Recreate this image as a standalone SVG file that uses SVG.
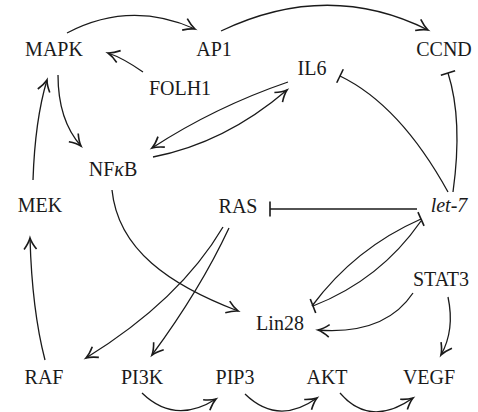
<svg xmlns="http://www.w3.org/2000/svg" width="478" height="412" viewBox="0 0 478 412">
<defs>
<style>
text{font-family:"Liberation Serif","Times New Roman",serif;font-size:20px;fill:#1a1a1a;text-anchor:middle}
.e{fill:none;stroke:#1a1a1a;stroke-width:1.3}
.a{marker-end:url(#arr)}
.t{marker-end:url(#tee)}
</style>
<marker id="arr" markerUnits="userSpaceOnUse" markerWidth="20" markerHeight="20" viewBox="-12 -8 14 16" refX="0" refY="0" orient="auto" overflow="visible">
<path d="M-9,-5 Q-4,-1.2 0,0 Q-4,1.2 -9,5" fill="none" stroke="#1a1a1a" stroke-width="1.3"/>
</marker>
<marker id="tee" markerUnits="userSpaceOnUse" markerWidth="20" markerHeight="20" viewBox="-8 -8 16 16" refX="0" refY="0" orient="auto" overflow="visible">
<path d="M0,-6 L0,6" fill="none" stroke="#1a1a1a" stroke-width="1.3"/>
</marker>
</defs>
<rect width="478" height="412" fill="#fff"/>
<g id="connectors">
<path class="e a" d="M67,33 Q130,0 195,29"/>
<path class="e a" d="M221,31 Q328,-20 428,30"/>
<path class="e a" d="M143,72 Q123,58 108,53"/>
<path class="e a" d="M58,75 C58,105 65,128 81,146"/>
<path class="e a" d="M288,82 Q215,107 152,148"/>
<path class="e a" d="M153,157 Q225,143 287,90"/>
<path class="e t" d="M448,192 Q400,105 340,76"/>
<path class="e t" d="M453,192 Q463,120 448,73"/>
<path class="e t" d="M417,209 L270,209"/>
<path class="e t" d="M312,306 Q355,248 421,219"/>
<path class="e t" d="M421,221 Q380,280 313,306"/>
<path class="e a" d="M223,227 Q180,300 86,358"/>
<path class="e a" d="M229,228 Q200,290 152,355"/>
<path class="e a" d="M112,190 C118,250 170,285 238,311"/>
<path class="e a" d="M33,180 Q35,120 47,80"/>
<path class="e a" d="M45,360 Q32,310 30,238"/>
<path class="e a" d="M413,293 Q385,335 318,330"/>
<path class="e a" d="M448,297 Q455,330 441,355"/>
<path class="e a" d="M142,393 Q175,425 216,399"/>
<path class="e a" d="M245,394 Q278,426 317,398"/>
<path class="e a" d="M340,393 Q370,428 413,398"/>
</g>
<g id="MAPK"><text x="54" y="56">MAPK</text></g>
<g id="AP1"><text x="214" y="56">AP1</text></g>
<g id="CCND"><text x="444" y="56">CCND</text></g>
<g id="FOLH1"><text x="180" y="95">FOLH1</text></g>
<g id="IL6"><text x="312" y="75">IL6</text></g>
<g id="NFkB"><text x="113" y="176">NF<tspan font-style="italic">κ</tspan>B</text></g>
<g id="MEK"><text x="40" y="212">MEK</text></g>
<g id="RAS"><text x="238" y="213">RAS</text></g>
<g id="let7"><text x="449" y="212" font-style="italic">let-7</text></g>
<g id="STAT3"><text x="441" y="286">STAT3</text></g>
<g id="Lin28"><text x="280" y="330">Lin28</text></g>
<g id="RAF"><text x="44" y="384">RAF</text></g>
<g id="PI3K"><text x="142" y="384">PI3K</text></g>
<g id="PIP3"><text x="235" y="384">PIP3</text></g>
<g id="AKT"><text x="327" y="384">AKT</text></g>
<g id="VEGF"><text x="429" y="384">VEGF</text></g>
</svg>
